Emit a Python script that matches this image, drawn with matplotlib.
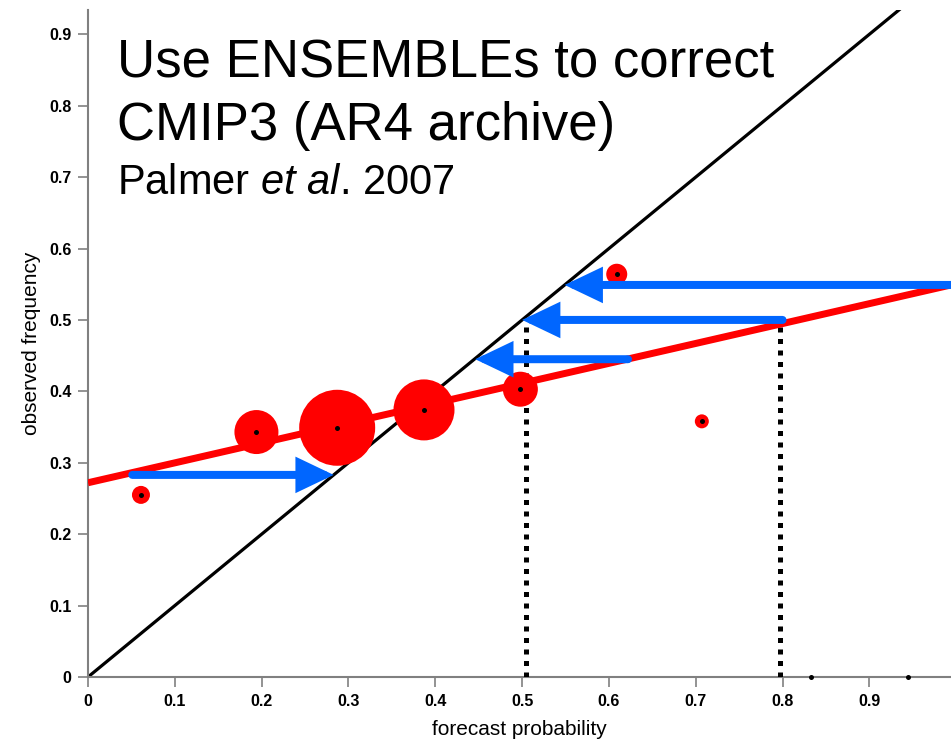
import matplotlib
matplotlib.use("Agg")
import matplotlib.pyplot as plt
from matplotlib.patches import FancyArrowPatch

# reliability diagram values
fc_prob = [0.061, 0.194, 0.287, 0.387, 0.498, 0.609, 0.707, 0.833, 0.945]
obs_freq = [0.255, 0.343, 0.349, 0.374, 0.403, 0.564, 0.358, 0.0, 0.0]
bin_diam = [18, 44, 76, 61, 35, 21, 14, 0, 0]  # circle diameter, pixels

# linear fit of the reliability curve
fit_x = [0.0, 0.994]
fit_y = [0.272, 0.549]

# calibration arrows: (start x, end x, y)
arrow_x0 = [0.051, 0.994, 0.800, 0.622]
arrow_x1 = [0.283, 0.549, 0.500, 0.446]
arrow_y = [0.283, 0.549, 0.500, 0.445]

# dotted guides
guide_x = [0.505, 0.797]
guide_top = [0.500, 0.499]

ticks = [0, 0.1, 0.2, 0.3, 0.4, 0.5, 0.6, 0.7, 0.8, 0.9]
tick_labels = ["0", "0.1", "0.2", "0.3", "0.4", "0.5", "0.6", "0.7", "0.8", "0.9"]

RED = "#ff0000"
BLUE = "#0066ff"
GREY = "#808080"
PX = 0.72  # points per pixel at dpi 100

plt.rcParams["font.family"] = ["Liberation Sans", "DejaVu Sans"]
plt.rcParams["mathtext.fontset"] = "custom"
plt.rcParams["mathtext.rm"] = "Liberation Sans"
plt.rcParams["mathtext.it"] = "Liberation Sans:italic"

fig = plt.figure(figsize=(9.51, 7.41), dpi=100)
ax = fig.add_axes([88 / 951, 64 / 741, 1 - 88 / 951, 667 / 741])

ax.set_xlim(0, 0.994)
ax.set_ylim(0, 0.934)

# perfect reliability diagonal
ax.plot([0, 1], [0, 1], color="black", lw=3.2 * PX, zorder=2)

# dotted verticals
for gx, gt in zip(guide_x, guide_top):
    ax.plot([gx, gx], [0, gt], color="black", lw=5 * PX,
            linestyle=(0, (1, 1.3)), dash_capstyle="butt", zorder=3)

# fitted line
ax.plot(fit_x, fit_y, color=RED, lw=7 * PX, solid_capstyle="butt", zorder=4)

# bin circles + centre dots
sizes = [(d * PX) ** 2 for d in bin_diam]
ax.scatter(fc_prob, obs_freq, s=sizes, color=RED, linewidths=0, zorder=5)
ax.scatter(fc_prob, obs_freq, s=(5 * PX) ** 2, color="black", linewidths=0,
           zorder=6, clip_on=False)

# blue arrows
for x0, x1, y in zip(arrow_x0, arrow_x1, arrow_y):
    arr = FancyArrowPatch((x0, y), (x1, y),
                          arrowstyle="-|>,head_length=%.1f,head_width=%.1f" % (25 * PX, 12 * PX),
                          mutation_scale=1, lw=8 * PX, color=BLUE,
                          shrinkA=0, shrinkB=0, joinstyle="miter", zorder=7,
                          clip_on=False)
    ax.add_patch(arr)

# title text
ax.text(0.033, 0.840, "Use ENSEMBLEs to correct", fontsize=38, va="baseline")
ax.text(0.033, 0.752, "CMIP3 (AR4 archive)", fontsize=38, va="baseline")
ax.text(0.033, 0.676, "Palmer $\\mathit{et\\ al}$. 2007", fontsize=30, va="baseline")

ax.set_xticks(ticks)
ax.set_xticklabels(tick_labels, fontsize=11.5, fontweight="bold")
ax.set_yticks(ticks)
ax.set_yticklabels(tick_labels, fontsize=11.5, fontweight="bold")
ax.tick_params(length=7, width=1.2, color=GREY, pad=5)

ax.set_xlabel("forecast probability", fontsize=15, labelpad=8)
ax.set_ylabel("observed frequency", fontsize=15, labelpad=6)

for side in ["top", "right"]:
    ax.spines[side].set_visible(False)
for side in ["left", "bottom"]:
    ax.spines[side].set_color(GREY)
    ax.spines[side].set_linewidth(1.5)

fig.savefig("out.png", dpi=100)
